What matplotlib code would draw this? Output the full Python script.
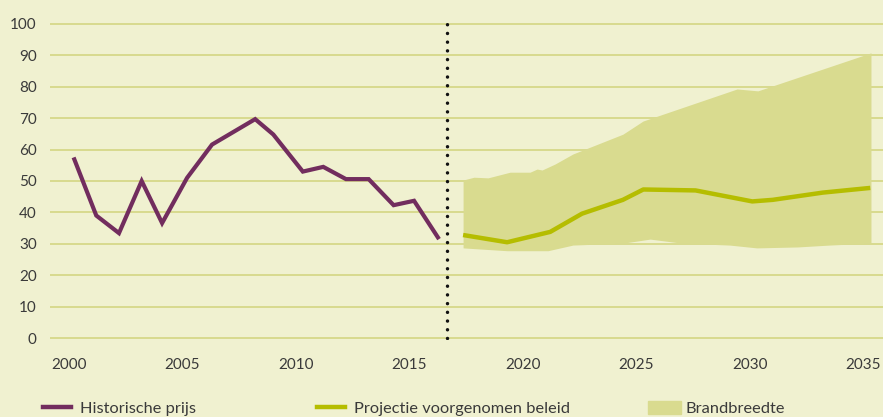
import numpy as np
import matplotlib.pyplot as plt
from matplotlib.patches import Patch
from matplotlib.lines import Line2D

# historische prijs
hist_jaar = [2000.2, 2001.2, 2002.2, 2003.2, 2004.1, 2005.2, 2006.3, 2008.2, 2009.0,
             2010.3, 2011.2, 2012.2, 2013.2, 2014.3, 2015.2, 2016.3]
hist_prijs = [57.5, 39.0, 33.4, 50.0, 36.6, 51.0, 61.6, 69.7, 64.8,
              53.0, 54.5, 50.6, 50.6, 42.3, 43.7, 31.5]

# projectie voorgenomen beleid
proj_jaar = [2017.36, 2019.3, 2021.2, 2022.6, 2024.4, 2025.3, 2027.6, 2030.1, 2031.0, 2033.2, 2035.3]
proj_prijs = [32.8, 30.5, 33.8, 39.6, 44.0, 47.3, 47.0, 43.5, 44.0, 46.3, 47.8]

# bandbreedte
band_jaar = [2017.36, 2017.84, 2018.46, 2019.43, 2020.31, 2020.62, 2020.84, 2021.41, 2022.2,
             2024.4, 2025.29, 2029.43, 2030.35, 2035.33]
band_boven = [50.3, 51.2, 51.0, 52.8, 52.8, 53.8, 53.5, 55.4, 58.6,
              64.9, 69.1, 79.3, 78.7, 90.8]
band_onder_jaar = [2017.36, 2019.3, 2021.1, 2022.2, 2024.4, 2025.6, 2027.0, 2029.1, 2030.3,
                   2032.1, 2033.5, 2035.33]
band_onder = [28.7, 27.8, 27.8, 29.6, 30.2, 31.5, 30.2, 29.6, 28.7, 29.0, 29.6, 30.2]

grens_jaar = 2016.65

bg = '#f0f1d0'
grid_kleur = '#d6d889'
band_kleur = '#d9db8f'
paars = '#722d5e'
groen = '#b5bd00'
tekst = '#3a3a3a'

plt.rcParams['font.family'] = ['Lato', 'DejaVu Sans']

fig = plt.figure(figsize=(8.83, 4.17), dpi=100, facecolor=bg)
ax = fig.add_axes([0.0566, 0.1856, 1 - 0.0566, 0.9463 - 0.1856])
ax.set_facecolor(bg)

# band: boven- en ondergrens op gemeenschappelijke x
xs = np.union1d(band_jaar, band_onder_jaar)
boven = np.interp(xs, band_jaar, band_boven)
onder = np.interp(xs, band_onder_jaar, band_onder)
ax.fill_between(xs, onder, boven, color=band_kleur, lw=0, zorder=2)

for y in range(0, 101, 10):
    ax.axhline(y, color=grid_kleur, lw=1.3, zorder=1)

ax.plot(hist_jaar, hist_prijs, color=paars, lw=3, solid_capstyle='butt',
        solid_joinstyle='miter', zorder=4)
ax.plot(proj_jaar, proj_prijs, color=groen, lw=3.2, solid_capstyle='butt', zorder=4)

ax.plot([grens_jaar, grens_jaar], [0, 100], color='#111111', lw=2.5,
        ls=(0, (0.01, 2.5)), dash_capstyle='round', zorder=5)

ax.set_xlim(1999.16, 2035.86)
ax.set_ylim(-0.5, 100.5)
ax.set_xticks(range(2000, 2036, 5))
ax.set_yticks(range(0, 101, 10))
ax.tick_params(length=0, labelsize=11, labelcolor=tekst)
ax.tick_params(axis='x', pad=13.5)
ax.tick_params(axis='y', pad=9.5)
for s in ax.spines.values():
    s.set_visible(False)

leg_kw = dict(frameon=False, fontsize=11.8, labelcolor=tekst, loc='center left',
              borderaxespad=0, borderpad=0)
fig.legend([Line2D([], [], color=paars, lw=3.2)], ['Historische prijs'],
           bbox_to_anchor=(43 / 883, 0.02), handlelength=1.7, handletextpad=0.55, **leg_kw)
fig.legend([Line2D([], [], color=groen, lw=3.2)], ['Projectie voorgenomen beleid'],
           bbox_to_anchor=(317 / 883, 0.02), handlelength=1.7, handletextpad=0.55, **leg_kw)
fig.legend([Patch(color=band_kleur)], ['Brandbreedte'],
           bbox_to_anchor=(648 / 883, 0.02), handlelength=2.0, handleheight=0.85,
           handletextpad=0.3, **leg_kw)

fig.savefig('out.png', dpi=100, facecolor=bg)
